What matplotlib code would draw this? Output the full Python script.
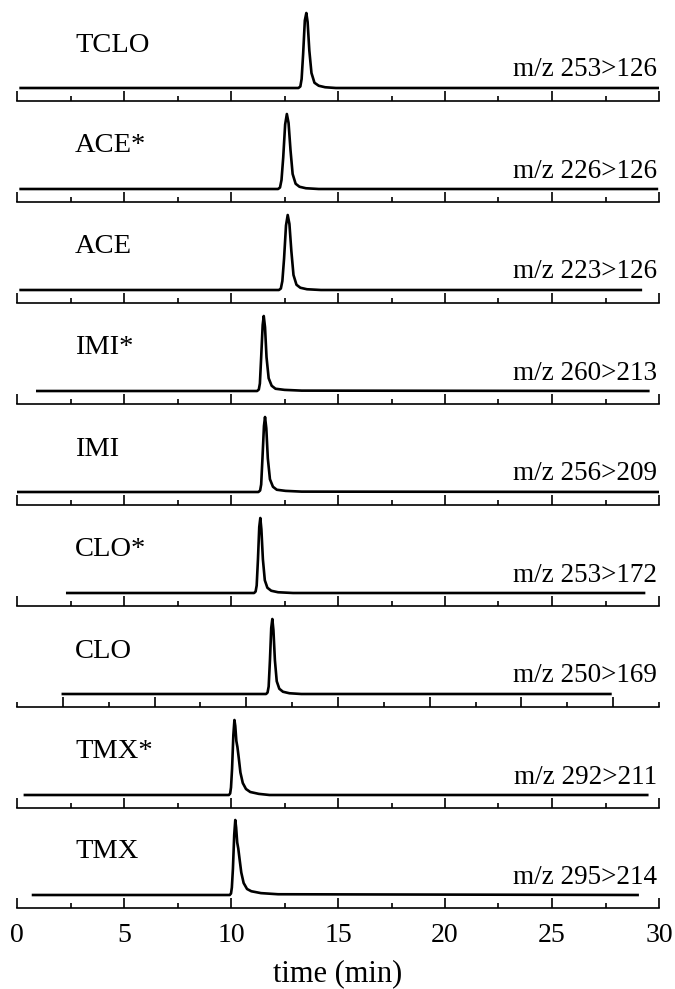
import matplotlib
matplotlib.use('Agg')
import matplotlib.pyplot as plt
from matplotlib.ticker import FixedLocator

plt.rcParams['font.family'] = ['Liberation Serif', 'DejaVu Serif']

# compound names and transitions, top to bottom
names = ['TCLO', 'ACE*', 'ACE', 'IMI*', 'IMI', 'CLO*', 'CLO', 'TMX*', 'TMX']
transitions = ['m/z 253>126', 'm/z 226>126', 'm/z 223>126', 'm/z 260>213',
               'm/z 256>209', 'm/z 253>172', 'm/z 250>169', 'm/z 292>211',
               'm/z 295>214']

# traces (time in min, relative intensity)
t_tclo = [0.17, 13.15, 13.24, 13.30, 13.37, 13.45, 13.52, 13.58, 13.66, 13.76, 13.90, 14.10, 14.4, 14.9, 30.0]
y_tclo = [0, 0, 0.02, 0.12, 0.45, 0.90, 1.0, 0.88, 0.50, 0.20, 0.07, 0.03, 0.01, 0, 0]

t_ace_d = [0.17, 12.20, 12.29, 12.36, 12.44, 12.53, 12.61, 12.69, 12.78, 12.88, 13.02, 13.20, 13.5, 14.1, 29.9]
y_ace_d = [0, 0, 0.02, 0.12, 0.42, 0.86, 1.0, 0.88, 0.52, 0.20, 0.07, 0.03, 0.01, 0, 0]

t_ace = [0.17, 12.24, 12.33, 12.40, 12.48, 12.57, 12.65, 12.73, 12.82, 12.92, 13.06, 13.24, 13.55, 14.2, 29.15]
y_ace = [0, 0, 0.02, 0.12, 0.42, 0.86, 1.0, 0.88, 0.52, 0.20, 0.07, 0.03, 0.01, 0, 0]

t_imi_d = [0.95, 11.22, 11.30, 11.35, 11.41, 11.48, 11.53, 11.59, 11.66, 11.76, 11.90, 12.08, 12.5, 13.3, 29.5]
y_imi_d = [0, 0, 0.02, 0.10, 0.45, 0.88, 1.0, 0.85, 0.45, 0.17, 0.07, 0.03, 0.015, 0.005, 0]

t_imi = [0.0, 11.28, 11.36, 11.41, 11.47, 11.54, 11.59, 11.65, 11.72, 11.82, 11.96, 12.14, 12.55, 13.3, 29.95]
y_imi = [0, 0, 0.02, 0.10, 0.45, 0.88, 1.0, 0.85, 0.45, 0.17, 0.07, 0.03, 0.015, 0.005, 0]

t_clo_d = [2.35, 11.08, 11.15, 11.20, 11.26, 11.32, 11.37, 11.42, 11.49, 11.58, 11.70, 11.88, 12.2, 12.9, 29.3]
y_clo_d = [0, 0, 0.02, 0.10, 0.45, 0.88, 1.0, 0.85, 0.45, 0.17, 0.07, 0.03, 0.01, 0, 0]

# CLO was recorded on its own time axis
t_clo = [0.0, 11.08, 11.16, 11.22, 11.29, 11.36, 11.42, 11.48, 11.56, 11.66, 11.80, 12.00, 12.35, 13.0, 29.85]
y_clo = [0, 0, 0.02, 0.10, 0.45, 0.88, 1.0, 0.85, 0.45, 0.17, 0.07, 0.03, 0.01, 0, 0]

t_tmx_d = [0.37, 9.90, 9.96, 10.00, 10.05, 10.11, 10.16, 10.20, 10.25, 10.30, 10.36, 10.44, 10.55, 10.70, 10.90, 11.3, 11.8, 29.45]
y_tmx_d = [0, 0, 0.02, 0.10, 0.35, 0.80, 1.0, 0.92, 0.72, 0.64, 0.50, 0.30, 0.16, 0.08, 0.04, 0.015, 0, 0]

t_tmx = [0.75, 9.94, 10.00, 10.04, 10.09, 10.15, 10.20, 10.24, 10.29, 10.34, 10.40, 10.48, 10.59, 10.75, 10.95, 11.4, 12.2, 29.0]
y_tmx = [0, 0, 0.02, 0.10, 0.35, 0.80, 1.0, 0.90, 0.70, 0.62, 0.48, 0.30, 0.16, 0.08, 0.05, 0.025, 0.01, 0]

times = [t_tclo, t_ace_d, t_ace, t_imi_d, t_imi, t_clo_d, t_clo, t_tmx_d, t_tmx]
signals = [y_tclo, y_ace_d, y_ace, y_imi_d, y_imi, y_clo_d, y_clo, y_tmx_d, y_tmx]

x_ticks = [0, 5, 10, 15, 20, 25, 30]
minor_std = [2.5, 7.5, 12.5, 17.5, 22.5, 27.5]
minor_clo = [-2.5, 2.5, 7.5, 12.5, 17.5, 22.5, 27.5, 32.5]

fig = plt.figure(figsize=(6.75, 9.89), dpi=100)
W, H = 675.0, 989.0
left_px, right_px = 17, 659
spine_px = [101, 202, 303, 404, 505, 606, 707, 808, 908]
panel_h = 101
base_px = 13
peak_px = 75

for i in range(len(names)):
    ax = fig.add_axes([left_px / W, 1 - spine_px[i] / H,
                       (right_px - left_px) / W, panel_h / H])
    ax.patch.set_alpha(0)
    ax.plot(times[i], signals[i], color='black', lw=1.9, solid_joinstyle='round')
    ax.set_ylim(-base_px / peak_px, (panel_h - base_px) / peak_px)
    if names[i] == 'CLO':
        ax.set_xlim(-2.5, 32.5)
        ax.xaxis.set_minor_locator(FixedLocator(minor_clo))
    else:
        ax.set_xlim(0, 30)
        ax.xaxis.set_minor_locator(FixedLocator(minor_std))
    ax.xaxis.set_major_locator(FixedLocator(x_ticks))
    for s in ['top', 'left', 'right']:
        ax.spines[s].set_visible(False)
    ax.spines['bottom'].set_linewidth(1.2)
    ax.set_yticks([])
    ax.tick_params(axis='x', which='major', direction='in', length=7.5, width=1.2)
    ax.tick_params(axis='x', which='minor', direction='in', length=3.8, width=1.2)
    if i == len(names) - 1:
        ax.set_xticklabels([str(v) for v in x_ticks], fontsize=20)
        ax.tick_params(axis='x', which='major', pad=11)
        ax.set_xlabel('time (min)', fontsize=22, labelpad=8)
    else:
        ax.set_xticklabels([])
    ax.text(58 / (right_px - left_px), 56 / panel_h, names[i], transform=ax.transAxes,
            ha='left', va='center', fontsize=20.5)
    ax.text(0.997, 31 / panel_h, transitions[i], transform=ax.transAxes,
            ha='right', va='center', fontsize=19.5)

fig.savefig('out.png', dpi=100)
